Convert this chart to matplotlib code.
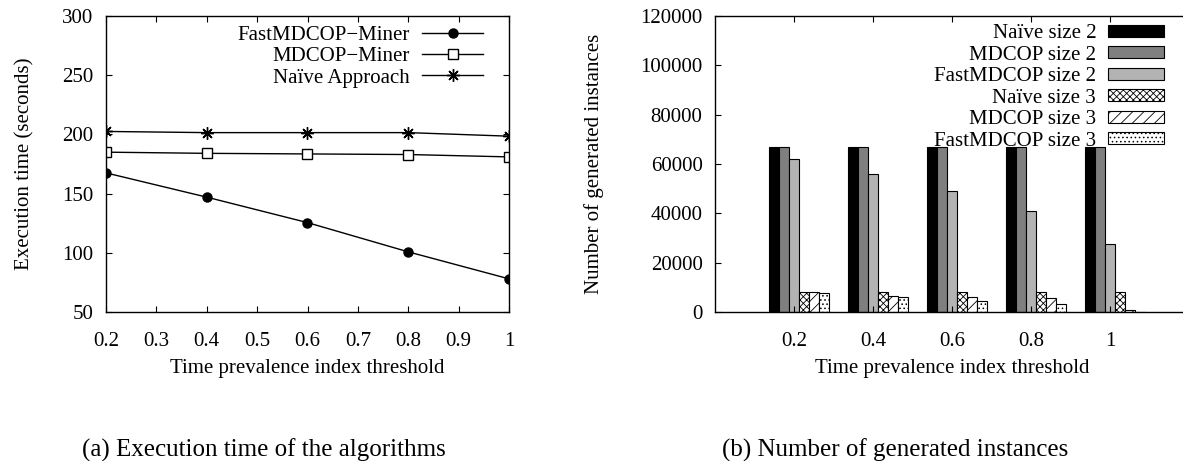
import numpy as np
import matplotlib
matplotlib.use("Agg")
import matplotlib.pyplot as plt
from matplotlib.patches import Patch

plt.rcParams['font.family'] = ['Liberation Serif', 'DejaVu Serif']
plt.rcParams['font.size'] = 15
plt.rcParams['hatch.linewidth'] = 0.6

# left chart: execution time
thresholds = [0.2, 0.4, 0.6, 0.8, 1.0]
fast_time = [167.5, 147, 125.5, 100.8, 78]
mdcop_time = [185, 184, 183.5, 183, 181]
naive_time = [202.5, 201.5, 201.5, 201.5, 198.5]

# right chart: generated instances
thr_labels = ['0.2', '0.4', '0.6', '0.8', '1']
naive2 = [67000, 67000, 67000, 67000, 67000]
mdcop2 = [67000, 67000, 67000, 67000, 67000]
fast2 = [62200, 56000, 49000, 40900, 27500]
naive3 = [8300, 8300, 8300, 8300, 8300]
mdcop3 = [8100, 6600, 6200, 5800, 800]
fast3 = [7700, 6000, 4600, 3100, 200]

fig = plt.figure(figsize=(11.83, 4.61), dpi=100)

# ---- (a) ----
ax1 = fig.add_axes([106/1183, 1-312/461, 403/1183, 296/461])
ax1.plot(thresholds, fast_time, color='black', lw=1, marker='o', ms=6.5,
         label='FastMDCOP\u2212Miner')
ax1.plot(thresholds, mdcop_time, color='black', lw=1, marker='s', ms=7,
         mfc='white', mew=1, label='MDCOP\u2212Miner')
ax1.plot(thresholds, naive_time, color='black', lw=1, marker=(8, 2, 0), ms=9,
         mew=1, label='Na\u00efve Approach')
ax1.set_xlim(0.2, 1.0)
ax1.set_ylim(50, 300)
ax1.set_xticks(np.arange(0.2, 1.01, 0.1))
ax1.set_xticklabels(['0.2', '0.3', '0.4', '0.5', '0.6', '0.7', '0.8', '0.9', '1'])
ax1.set_yticks(range(50, 301, 50))
ax1.tick_params(direction='in', top=True, right=True, length=4, width=0.8, pad=9)
ax1.tick_params(axis='x', pad=14.5)
ax1.set_xlabel('Time prevalence index threshold', labelpad=6)
ax1.set_ylabel('Execution time (seconds)')
ax1.yaxis.set_label_coords(-(106-34)/403, 0.5)
ax1.legend(loc='upper right', bbox_to_anchor=(0.935, 0.968), frameon=False,
           markerfirst=False, handlelength=2.9, handletextpad=0.6,
           labelspacing=0.08, borderpad=0, borderaxespad=0)

# ---- (b) ----
ax2 = fig.add_axes([715/1183, 1-312/461, 474/1183, 296/461])
x = np.arange(len(thr_labels))
w = 0.127
start = -0.315
series = [
    (naive2, 'black', None, 'Na\u00efve size 2'),
    (mdcop2, '#7f7f7f', None, 'MDCOP size 2'),
    (fast2, '#b3b3b3', None, 'FastMDCOP size 2'),
    (naive3, 'white', 'xxxxx', 'Na\u00efve size 3'),
    (mdcop3, 'white', '///', 'MDCOP size 3'),
    (fast3, 'white', '....', 'FastMDCOP size 3'),
]
handles = []
for i, (vals, col, hat, lab) in enumerate(series):
    ax2.bar(x + start + i*w, vals, width=w, align='edge', color=col,
            hatch=hat, edgecolor='black', linewidth=0.8)
    handles.append(Patch(facecolor=col, hatch=hat, edgecolor='black',
                         linewidth=0.8, label=lab))
ax2.set_xlim(-1, 5)
ax2.set_ylim(0, 120000)
ax2.set_xticks(x)
ax2.set_xticklabels(thr_labels)
ax2.set_yticks(range(0, 120001, 20000))
ax2.tick_params(direction='in', top=True, length=4, width=0.8, pad=9)
ax2.tick_params(axis='x', pad=14.5)
ax2.spines['right'].set_visible(False)
ax2.set_xlabel('Time prevalence index threshold', labelpad=6)
ax2.set_ylabel('Number of generated instances')
ax2.yaxis.set_label_coords(-(715-604)/474, 0.5)
ax2.legend(handles=handles, loc='upper right', bbox_to_anchor=(0.947, 0.972),
           frameon=False, markerfirst=False, handlelength=2.7, handleheight=0.5,
           handletextpad=0.55, labelspacing=0.12, borderpad=0, borderaxespad=0)

for ax in (ax1, ax2):
    for s in ax.spines.values():
        s.set_linewidth(1)

fig.text(264/1183, 1-450/461, '(a) Execution time of the algorithms',
         ha='center', va='center', fontsize=18)
fig.text(895/1183, 1-450/461, '(b) Number of generated instances',
         ha='center', va='center', fontsize=18)

fig.savefig('out.png', dpi=100)
